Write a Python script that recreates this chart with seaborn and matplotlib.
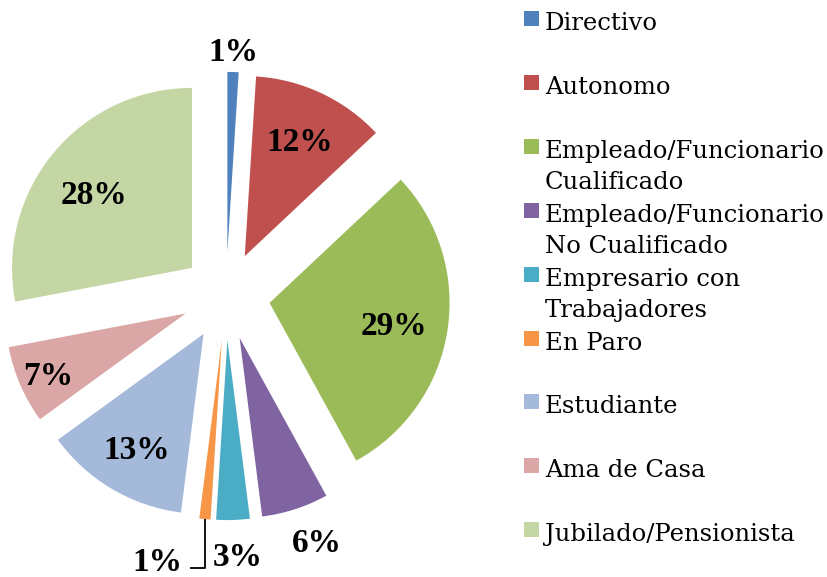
import matplotlib
matplotlib.use("Agg")
import matplotlib.pyplot as plt
from matplotlib.patches import Rectangle
import numpy as np
import seaborn as sns

sns.set_theme(style="white")
plt.rcParams['font.family'] = ['Liberation Serif', 'DejaVu Serif']

# Data (percent per occupation)
categories = ["Directivo", "Autonomo", "Empleado/Funcionario\nCualificado",
              "Empleado/Funcionario\nNo Cualificado", "Empresario con\nTrabajadores",
              "En Paro", "Estudiante", "Ama de Casa", "Jubilado/Pensionista"]
values = [1, 12, 29, 6, 3, 1, 13, 7, 28]
pct_labels = ["1%", "12%", "29%", "6%", "3%", "1%", "13%", "7%", "28%"]
colors = ["#4F81BD", "#C0504D", "#9BBB59", "#8064A2", "#4BACC6",
          "#F79646", "#A5B9DA", "#DAA7A6", "#C5D6A5"]

W, H = 827, 577
fig = plt.figure(figsize=(W / 100, H / 100), dpi=100)
ax = fig.add_axes([0, 0, 452 / W, 1])

wedges, _ = ax.pie(values, colors=colors, startangle=90, counterclock=False,
                   explode=[0.245] * len(values), radius=1,
                   wedgeprops=dict(linewidth=0))

label_font = dict(fontsize=24, fontweight="bold", color="black",
                  family="Liberation Serif")

# distance of each label from its (exploded) wedge centre, and small angle tweaks
label_dist = [1.13, 0.72, 0.70, 1.20, 1.19, None, 0.73, 0.83, 0.69]
label_turn = [0, 0, 0, 3, 1, 0, 0, 0, 2]
for i, w in enumerate(wedges):
    mid = np.deg2rad((w.theta1 + w.theta2) / 2)
    cx, cy = w.center
    if label_dist[i] is None:
        # small slice: label with an elbow leader line
        tx, ty = cx + np.cos(mid), cy + np.sin(mid)
        ly = ty - 0.27
        ax.plot([tx, tx, tx - 0.083], [ty, ly, ly], color="black", lw=1.3,
                solid_capstyle="butt")
        ax.text(tx - 0.125, ly - 0.017, pct_labels[i], ha="right", va="baseline",
                **label_font)
        continue
    a = mid + np.deg2rad(label_turn[i])
    ax.text(cx + label_dist[i] * np.cos(a), cy + label_dist[i] * np.sin(a),
            pct_labels[i], ha="center", va="center_baseline", **label_font)

ax.set_xlim(-226 / 180, 226 / 180)
ax.set_ylim(-281 / 180, 296 / 180)
ax.axis("off")

# Legend on the right, evenly spaced entries as in the original
step = 63.9
for i, (cat, col) in enumerate(zip(categories, colors)):
    top = 11 + i * step
    fig.add_artist(Rectangle((524 / W, 1 - (top + 15) / H), 15 / W, 15 / H,
                             transform=fig.transFigure, color=col, lw=0))
    for j, line in enumerate(cat.split("\n")):
        base = 30 + i * step + j * 31
        fig.text(545 / W, 1 - base / H, line, ha="left", va="baseline",
                 fontsize=17.5, color="black", family="DejaVu Serif")

fig.savefig("out.png", dpi=100)
